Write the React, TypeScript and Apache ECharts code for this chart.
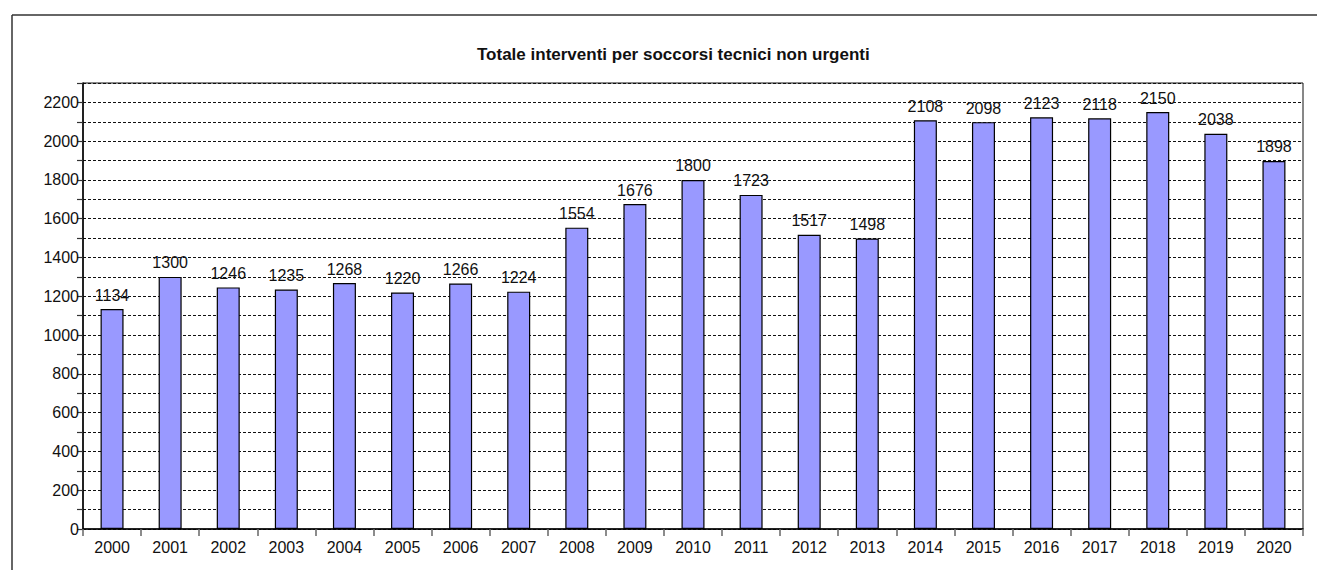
import React, { useEffect, useRef } from "react";
import * as echarts from "echarts";

const years = ["2000","2001","2002","2003","2004","2005","2006","2007","2008","2009","2010","2011","2012","2013","2014","2015","2016","2017","2018","2019","2020"];
const interventi = [1134,1300,1246,1235,1268,1220,1266,1224,1554,1676,1800,1723,1517,1498,2108,2098,2123,2118,2150,2038,1898];
const titleText = "Totale interventi per soccorsi tecnici non urgenti";

const FONT = "'Liberation Sans', Arial, sans-serif";

export default function App() {
  const ref = useRef<HTMLDivElement>(null);
  useEffect(() => {
    if (!ref.current) return;
    const chart = echarts.init(ref.current, null, { renderer: "svg" });
    chart.setOption({
      animation: false,
      backgroundColor: "#ffffff",
      textStyle: { fontFamily: FONT },
      title: {
        text: titleText,
        left: 472,
        top: 41,
        textStyle: { fontFamily: FONT, fontSize: 17, fontWeight: "bold", color: "#111" },
      },
      graphic: [
        {
          type: "line",
          shape: { x1: 12, y1: 15, x2: 1317, y2: 15 },
          style: { stroke: "#333", lineWidth: 1.5 },
          silent: true,
          z: 100,
        },
        {
          type: "line",
          shape: { x1: 12, y1: 15, x2: 12, y2: 570 },
          style: { stroke: "#333", lineWidth: 1.5 },
          silent: true,
          z: 100,
        },
      ],
      grid: {
        left: 83,
        right: 14,
        top: 83,
        bottom: 41,
        show: true,
        borderColor: "#111",
        borderWidth: 1,
        backgroundColor: "transparent",
      },
      xAxis: {
        type: "category",
        data: years,
        boundaryGap: true,
        axisLine: { lineStyle: { color: "#000", width: 1.5 } },
        axisTick: { show: true, alignWithLabel: false, length: 7, lineStyle: { color: "#666", width: 1.5 } },
        axisLabel: { color: "#111", fontSize: 16, margin: 10, fontFamily: FONT },
        splitLine: { show: false },
      },
      yAxis: {
        type: "value",
        min: 0,
        max: 2300,
        interval: 100,
        axisLine: { show: true, lineStyle: { color: "#000", width: 1.5 } },
        axisTick: { show: true, length: 6, lineStyle: { color: "#333", width: 1.2 } },
        axisLabel: {
          color: "#111",
          fontSize: 16,
          margin: 4,
          fontFamily: FONT,
          formatter: (v: number) => (v % 200 === 0 ? String(v) : ""),
        },
        splitLine: { show: true, lineStyle: { color: "#111", width: 1, type: [3, 2] } },
      },
      series: [
        {
          type: "bar",
          data: interventi,
          barWidth: 23,
          itemStyle: { color: "#9999FF", borderColor: "#000", borderWidth: 1.2 },
          label: {
            show: true,
            position: "top",
            distance: 6,
            color: "#111",
            fontSize: 16,
            fontFamily: FONT,
          },
        },
      ],
    });
    return () => chart.dispose();
  }, []);
  return (
    <div
      ref={ref}
      style={{ position: "fixed", left: 0, top: 0, width: 1317, height: 570 }}
    />
  );
}
